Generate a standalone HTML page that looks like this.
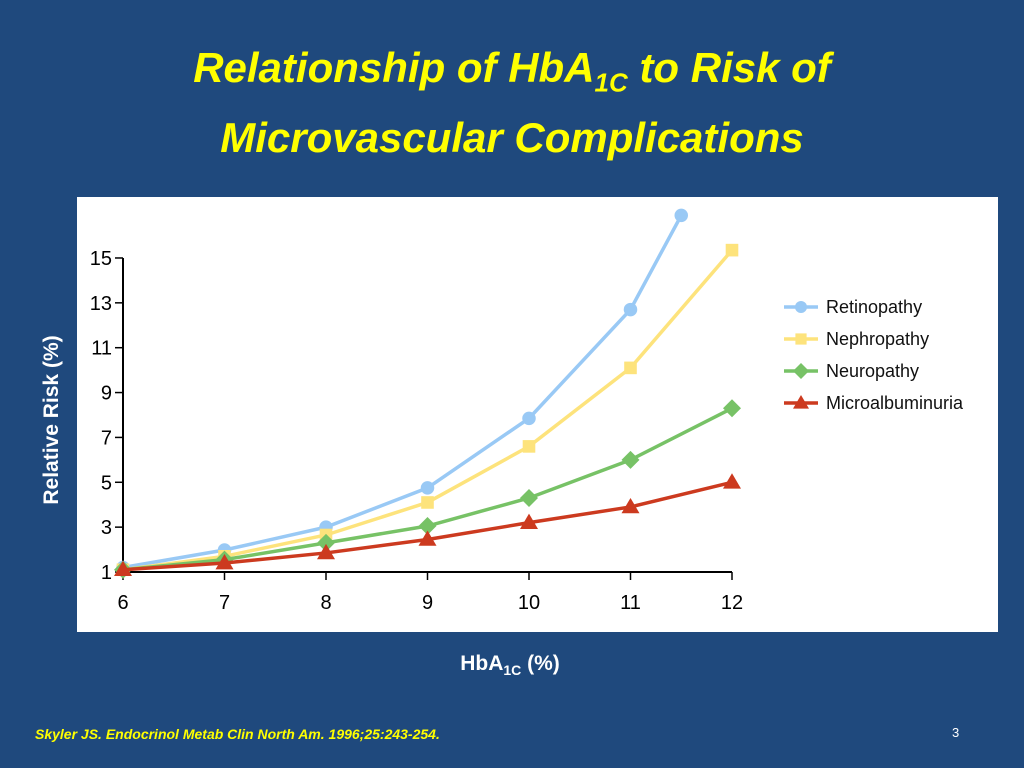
<!DOCTYPE html>
<html><head><meta charset="utf-8"><style>
body{margin:0;width:1024px;height:768px;background:#1f497d;overflow:hidden;position:relative;font-family:"Liberation Sans",sans-serif}
.t{position:absolute;left:0;width:1024px;text-align:center;color:#ffff00;font-weight:bold;font-style:italic;font-size:42px;line-height:56px}
#panel{position:absolute;left:77px;top:197px;width:921px;height:435px;background:#fff}
</style></head><body>
<div class="t" style="top:40px">Relationship of HbA<sub style="font-size:26px">1C</sub> to Risk of<br>Microvascular Complications</div>
<div id="panel"></div>
<svg width="1024" height="768" style="position:absolute;left:0;top:0" id="chart"></svg>
<div style="position:absolute;left:-48px;top:408px;width:200px;text-align:center;transform:rotate(-90deg);color:#fff;font-weight:bold;font-size:21px">Relative Risk (%)</div>
<div style="position:absolute;left:410px;top:652px;width:200px;text-align:center;color:#fff;font-weight:bold;font-size:21px">HbA<sub style="font-size:14px">1C</sub> (%)</div>
<div style="position:absolute;left:35px;top:726px;color:#ffff00;font-style:italic;font-weight:bold;font-size:14px">Skyler JS. Endocrinol Metab Clin North Am. 1996;25:243-254.</div>
<div style="position:absolute;left:952px;top:725px;color:#fff;font-size:13px">3</div>
<script>
const xTicks=[6,7,8,9,10,11,12];
const yTicks=[1,3,5,7,9,11,13,15];
const seriesNames=["Retinopathy","Nephropathy","Neuropathy","Microalbuminuria"];
const retX=[6,7,8,9,10,11,11.5];
const retY=[1.2,1.98,3.0,4.75,7.85,12.7,16.9];
const nephX=[6,7,8,9,10,11,12];
const nephY=[1.1,1.7,2.65,4.1,6.6,10.1,15.35];
const neuX=[6,7,8,9,10,11,12];
const neuY=[1.1,1.55,2.3,3.05,4.3,6.0,8.3];
const micX=[6,7,8,9,10,11,12];
const micY=[1.1,1.4,1.85,2.45,3.2,3.9,5.0];
const colors=["#99c9f5","#fde37c","#77c266","#cc3a1f"];
const markers=["circle","square","diamond","triangle"];
const NS="http://www.w3.org/2000/svg";
const svg=document.getElementById('chart');
const sx=v=>123+(v-6)*101.5, sy=v=>572-(v-1)*22.43;
function mk(tag,a){const e=document.createElementNS(NS,tag);for(const k in a)e.setAttribute(k,a[k]);svg.appendChild(e);return e;}
let ax=mk('path',{d:`M123 ${sy(15)}V572H${sx(12)}`,stroke:'#000','stroke-width':2,fill:'none'});


yTicks.forEach(v=>{const l=mk('line',{x1:115,x2:123,y1:sy(v),y2:sy(v),stroke:'#000','stroke-width':1.5});


const t=mk('text',{x:112,y:sy(v)+7,'text-anchor':'end','font-size':20,fill:'#000','font-family':'Liberation Sans'});t.textContent=v;

});
xTicks.forEach(v=>{const l=mk('line',{x1:sx(v),x2:sx(v),y1:572,y2:580,stroke:'#000','stroke-width':1.5});


const t=mk('text',{x:sx(v),y:609,'text-anchor':'middle','font-size':20,fill:'#000','font-family':'Liberation Sans'});t.textContent=v;

});
function marker(type,x,y,c,s){
 if(type=='circle')return mk('circle',{cx:x,cy:y,r:s*0.75,fill:c});
 if(type=='square')return mk('rect',{x:x-s*0.7,y:y-s*0.7,width:s*1.4,height:s*1.4,fill:c});
 if(type=='diamond')return mk('path',{d:`M${x} ${y-s}L${x+s} ${y}L${x} ${y+s}L${x-s} ${y}Z`,fill:c});
 return mk('path',{d:`M${x} ${y-s}L${x+s} ${y+s*0.7}L${x-s} ${y+s*0.7}Z`,fill:c});
}
const all=[[retX,retY],[nephX,nephY],[neuX,neuY],[micX,micY]];
all.forEach(([xs,ys],i)=>{
 const p=mk('polyline',{points:xs.map((x,j)=>sx(x)+','+sy(ys[j])).join(' '),fill:'none',stroke:colors[i],'stroke-width':3.5});
 
 
 xs.forEach((x,j)=>{const m=marker(markers[i],sx(x),sy(ys[j]),colors[i],9);
 
 });
 const ly=307+i*32;
 const ll=mk('line',{x1:784,x2:818,y1:ly,y2:ly,stroke:colors[i],'stroke-width':3.5});
 
 
 const lm=marker(markers[i],801,ly,colors[i],8);
 
 
 const t=mk('text',{x:826,y:ly+6,'font-size':18,fill:'#111','font-family':'Liberation Sans'});t.textContent=seriesNames[i];
 
 
});
</script>
</body></html>
